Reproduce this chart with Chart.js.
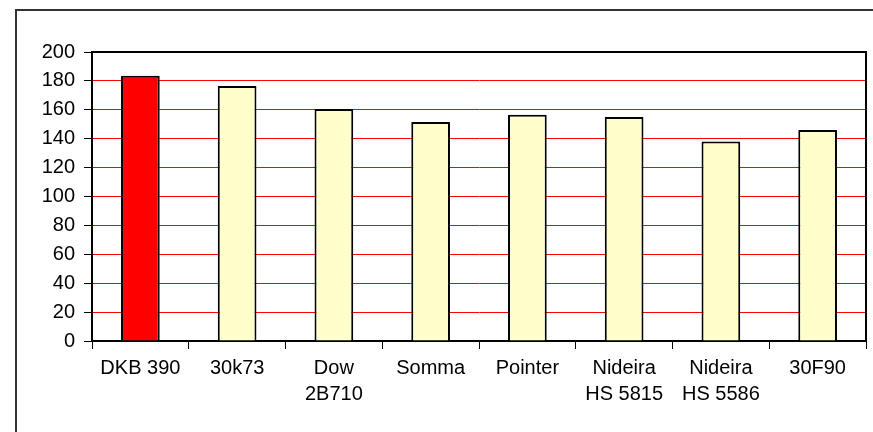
<!DOCTYPE html>
<html>
<head>
<meta charset="utf-8">
<script src="https://cdn.jsdelivr.net/npm/chart.js@4/dist/chart.umd.min.js"></script>
<style>
  html, body { margin: 0; padding: 0; background: #fff; }
  #wrap { position: relative; width: 873px; height: 432px; }
</style>
</head>
<body>
<div id="wrap"><canvas id="chart" width="873" height="432"></canvas></div>
<script>
// hybrids and their values
const categories = ['DKB 390', '30k73', ['Dow', '2B710'], 'Somma', 'Pointer',
  ['Nideira', 'HS 5815'], ['Nideira', 'HS 5586'], '30F90'];
const values = [183.5, 176.5, 160.5, 151.5, 156.5, 155, 138, 146];
const barColors = ['#FF0000', '#FFFFCC', '#FFFFCC', '#FFFFCC', '#FFFFCC', '#FFFFCC', '#FFFFCC', '#FFFFCC'];
const yMin = 0;
const yMax = 200;
const yStep = 20;

// outer frame (only left/top visible) + top/right edge of plot area
const frame = {
  id: 'frame',
  beforeDraw(chart) {
    const c = chart.ctx;
    c.save();
    c.strokeStyle = '#333';
    c.lineWidth = 2;
    c.beginPath();
    c.moveTo(16, 432);
    c.lineTo(16, 10);
    c.lineTo(873, 10);
    c.stroke();
    c.restore();
  },
  afterDatasetsDraw(chart) {
    const a = chart.chartArea;
    const c = chart.ctx;
    c.save();
    c.strokeStyle = '#000';
    c.lineWidth = 2;
    c.beginPath();
    c.moveTo(a.left, a.top);
    c.lineTo(a.right, a.top);
    c.lineTo(a.right, a.bottom);
    c.stroke();
    c.restore();
  }
};

const font = { family: 'Liberation Sans, Arial, sans-serif', size: 20, lineHeight: 1.3 };

new Chart(document.getElementById('chart'), {
  type: 'bar',
  data: {
    labels: categories,
    datasets: [{
      data: values,
      backgroundColor: barColors,
      borderColor: '#000',
      borderWidth: 2,
      barPercentage: 0.4,
      categoryPercentage: 1
    }]
  },
  options: {
    responsive: false,
    animation: false,
    layout: { padding: { left: 0, top: 52, right: 7, bottom: 0 } },
    plugins: { legend: { display: false }, tooltip: { enabled: false } },
    scales: {
      x: {
        grid: { drawOnChartArea: false, drawTicks: true, tickLength: 8, tickColor: '#000', offset: true },
        border: { color: '#000', width: 2 },
        ticks: { color: '#000', font: font, maxRotation: 0, autoSkip: false, padding: 6 },
        afterFit(scale) { scale.height = 91; }
      },
      y: {
        min: yMin,
        max: yMax,
        grid: { color: '#FF0000', lineWidth: 1, tickColor: '#000', tickLength: 8 },
        border: { color: '#000', width: 2 },
        ticks: { stepSize: yStep, color: '#000', font: font, padding: 9, autoSkip: false },
        afterFit(scale) { scale.width = 92; }
      }
    }
  },
  plugins: [frame]
});
</script>
</body>
</html>
